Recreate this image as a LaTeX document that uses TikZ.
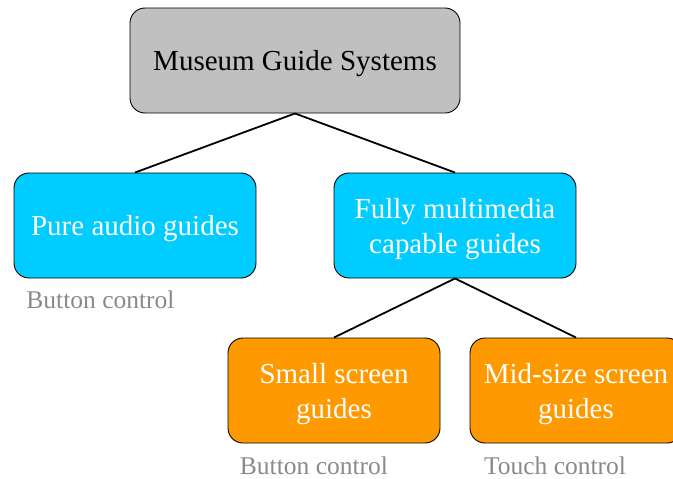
\documentclass[tikz,border=0pt]{standalone}
\usepackage{fontspec}
\setmainfont{Liberation Serif}
\usepackage{tikz}

\definecolor{boxgray}{HTML}{C0C0C0}
\definecolor{boxcyan}{HTML}{00CCFF}
\definecolor{boxorange}{HTML}{FF9900}
\definecolor{notegray}{HTML}{8A8A8A}

\tikzset{
  guidebox/.style={draw=black,line width=0.9pt,rounded corners=15pt,
    minimum height=105pt,inner sep=0pt,align=center,text depth=-2.5pt,
    font=\fontsize{29}{35}\selectfont},
  topbox/.style={guidebox,fill=boxgray,text=black,minimum width=330pt},
  typebox/.style={guidebox,fill=boxcyan,text=white,minimum width=242pt},
  screenbox/.style={guidebox,fill=boxorange,text=white,minimum width=212pt},
  note/.style={text=notegray,inner sep=0pt,font=\fontsize{25.5}{30}\selectfont},
  link/.style={line width=1.8pt}
}

\begin{document}
\begin{tikzpicture}[x=1pt,y=-1pt]
  \useasboundingbox (0,0) rectangle (673,479);
  % boxes
  \node[topbox] (museum) at (295,60.5) {Museum Guide Systems};
  \node[typebox] (audio) at (135,225.5) {Pure audio guides};
  \node[typebox] (multi) at (455,225.5) {Fully multimedia\\capable guides};
  \node[screenbox] (small) at (334,390.5) {Small screen\\guides};
  \node[screenbox] (mid) at (576,390.5) {Mid-size screen\\guides};
  % links
  \draw[link] (museum.south) -- (audio.north);
  \draw[link] (museum.south) -- (multi.north);
  \draw[link] (multi.south) -- (small.north);
  \draw[link] (multi.south) -- (mid.north);
  % controls
  \node[note] (audionote) at (100.5,300) {Button control};
  \node[note] (smallnote) at (314,466) {Button control};
  \node[note] (midnote) at (555,466) {Touch control};
\end{tikzpicture}
\end{document}
